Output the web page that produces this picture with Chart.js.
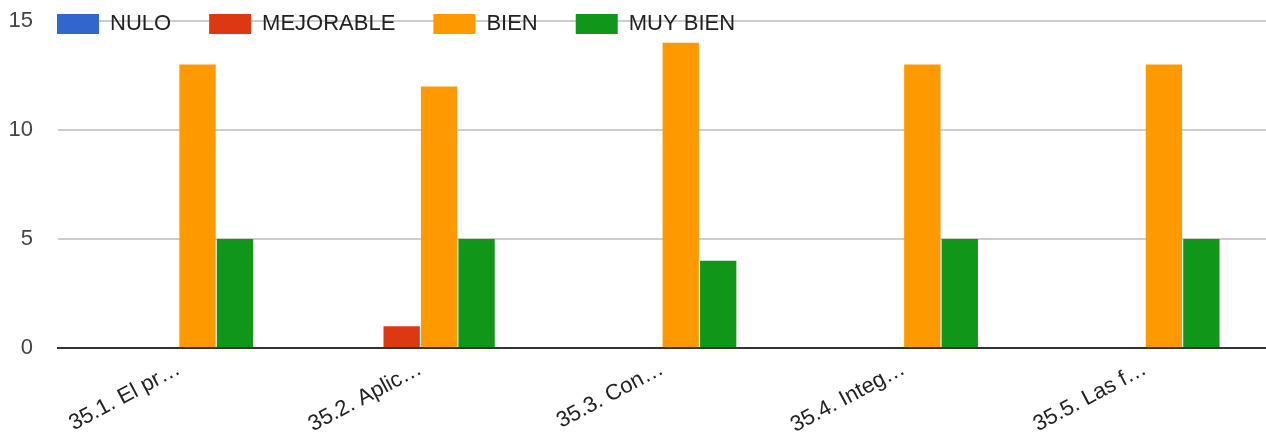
<!DOCTYPE html>
<html>
<head>
<meta charset="utf-8">
<style>
  html, body { margin: 0; padding: 0; background: #fff; }
  .chart-wrap { width: 1266px; height: 433px; position: relative; }
</style>
<script src="https://cdn.jsdelivr.net/npm/chart.js@4/dist/chart.umd.min.js"></script>
</head>
<body>
<div class="chart-wrap"><canvas id="chart"></canvas></div>
<script>
  // data
  const categories = ['35.1. El pr\u2026', '35.2. Aplic\u2026', '35.3. Con\u2026', '35.4. Integ\u2026', '35.5. Las f\u2026'];
  const nulo = [0, 0, 0, 0, 0];
  const mejorable = [0, 1, 0, 0, 0];
  const bien = [13, 12, 14, 13, 13];
  const muyBien = [5, 5, 4, 5, 5];
  const yTicks = [0, 5, 10, 15];

  const FONT = "'Liberation Sans', Arial, sans-serif";

  // legend sits on the top gridline, like google charts does it
  const legendOnGrid = {
    id: 'legendOnGrid',
    beforeInit(chart) {
      const fit = chart.legend.fit;
      chart.legend.fit = function () {
        fit.call(this);
        this.height = 21;
      };
    },
    afterLayout(chart) {
      const lg = chart.legend;
      const pad = lg.options.labels.padding;
      lg.left = 57 - pad;
      lg.top = 13 - pad;
      lg.bottom = 40; // don't clip the items
      lg.height = lg.bottom - lg.top;
    }
  };

  const bar = (label, data, color) => ({
    label, data,
    backgroundColor: color,
    borderWidth: 0,
    categoryPercentage: 0.62,
    barPercentage: 0.97
  });

  new Chart(document.getElementById('chart'), {
    type: 'bar',
    data: {
      labels: categories,
      datasets: [
        bar('NULO', nulo, '#3366cc'),
        bar('MEJORABLE', mejorable, '#dc3912'),
        bar('BIEN', bien, '#ff9900'),
        bar('MUY BIEN', muyBien, '#109618')
      ]
    },
    options: {
      responsive: true,
      maintainAspectRatio: false,
      animation: false,
      layout: { padding: 0 },
      plugins: {
        legend: {
          position: 'top',
          align: 'start',
          labels: { boxWidth: 42, boxHeight: 20, padding: 38, color: '#222', font: { family: FONT, size: 22 } }
        },
        tooltip: { enabled: false }
      },
      scales: {
        x: {
          grid: { display: false },
          border: { color: '#333', width: 2, z: 1 },
          ticks: { color: '#222', font: { family: FONT, size: 22 }, minRotation: 28, maxRotation: 28, padding: 0 },
          afterFit(s) { s.height = 85; }
        },
        y: {
          min: 0,
          max: 15,
          afterBuildTicks(s) { s.ticks = yTicks.map(v => ({ value: v })); },
          grid: { color: '#cccccc', lineWidth: 2, drawTicks: false },
          border: { display: false },
          ticks: { color: '#444', font: { family: FONT, size: 22 }, padding: 25 },
          afterFit(s) {
            s.width = 58;
            s.paddingTop = 0;
            s.paddingBottom = 0;
          }
        }
      }
    },
    plugins: [legendOnGrid]
  });
</script>
</body>
</html>
